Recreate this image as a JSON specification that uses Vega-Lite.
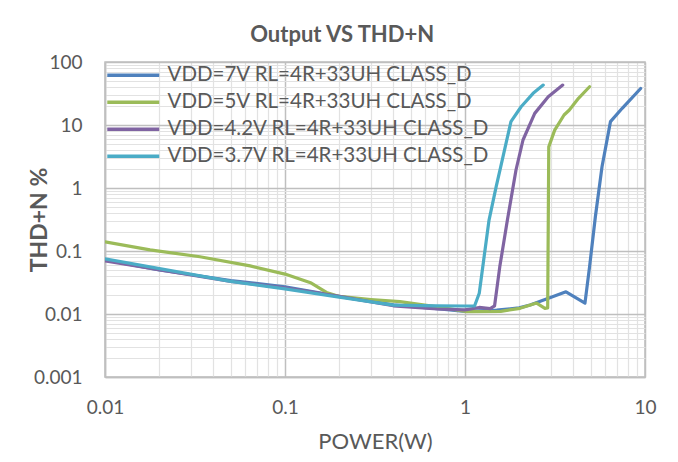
{
  "$schema": "https://vega.github.io/schema/vega-lite/v6.json",
  "autosize": {"type": "none"},
  "width": 540,
  "height": 315,
  "padding": {"left": 105, "top": 62, "right": 33, "bottom": 85},
  "background": "white",
  "title": {
    "text": "Output VS THD+N",
    "font": "Lato",
    "fontSize": 22,
    "fontWeight": "bold",
    "color": "#595959",
    "anchor": "middle",
    "frame": "bounds",
    "offset": 6
  },
  "config": {
    "view": {"stroke": "#bfbfbf", "strokeWidth": 1.5},
    "font": "Lato"
  },
  "data": {
    "values": [
      {"series": "VDD=7V RL=4R+33UH CLASS_D", "x": 0.01, "y": 0.072},
      {"series": "VDD=7V RL=4R+33UH CLASS_D", "x": 0.02, "y": 0.05},
      {"series": "VDD=7V RL=4R+33UH CLASS_D", "x": 0.05, "y": 0.034},
      {"series": "VDD=7V RL=4R+33UH CLASS_D", "x": 0.1, "y": 0.027},
      {"series": "VDD=7V RL=4R+33UH CLASS_D", "x": 0.2, "y": 0.019},
      {"series": "VDD=7V RL=4R+33UH CLASS_D", "x": 0.4, "y": 0.014},
      {"series": "VDD=7V RL=4R+33UH CLASS_D", "x": 0.7, "y": 0.0122},
      {"series": "VDD=7V RL=4R+33UH CLASS_D", "x": 1.0, "y": 0.011},
      {"series": "VDD=7V RL=4R+33UH CLASS_D", "x": 1.5, "y": 0.0115},
      {"series": "VDD=7V RL=4R+33UH CLASS_D", "x": 2.0, "y": 0.0125},
      {"series": "VDD=7V RL=4R+33UH CLASS_D", "x": 2.3, "y": 0.0139},
      {"series": "VDD=7V RL=4R+33UH CLASS_D", "x": 3.09, "y": 0.0189},
      {"series": "VDD=7V RL=4R+33UH CLASS_D", "x": 3.64, "y": 0.0225},
      {"series": "VDD=7V RL=4R+33UH CLASS_D", "x": 4.64, "y": 0.0149},
      {"series": "VDD=7V RL=4R+33UH CLASS_D", "x": 4.92, "y": 0.056},
      {"series": "VDD=7V RL=4R+33UH CLASS_D", "x": 5.3, "y": 0.35},
      {"series": "VDD=7V RL=4R+33UH CLASS_D", "x": 5.77, "y": 2.18},
      {"series": "VDD=7V RL=4R+33UH CLASS_D", "x": 6.43, "y": 11.3},
      {"series": "VDD=7V RL=4R+33UH CLASS_D", "x": 7.47, "y": 18.4},
      {"series": "VDD=7V RL=4R+33UH CLASS_D", "x": 9.46, "y": 38},

      {"series": "VDD=5V RL=4R+33UH CLASS_D", "x": 0.01, "y": 0.14},
      {"series": "VDD=5V RL=4R+33UH CLASS_D", "x": 0.0178, "y": 0.104},
      {"series": "VDD=5V RL=4R+33UH CLASS_D", "x": 0.0337, "y": 0.081},
      {"series": "VDD=5V RL=4R+33UH CLASS_D", "x": 0.064, "y": 0.058},
      {"series": "VDD=5V RL=4R+33UH CLASS_D", "x": 0.1, "y": 0.043},
      {"series": "VDD=5V RL=4R+33UH CLASS_D", "x": 0.14, "y": 0.031},
      {"series": "VDD=5V RL=4R+33UH CLASS_D", "x": 0.17, "y": 0.022},
      {"series": "VDD=5V RL=4R+33UH CLASS_D", "x": 0.2, "y": 0.019},
      {"series": "VDD=5V RL=4R+33UH CLASS_D", "x": 0.3, "y": 0.017},
      {"series": "VDD=5V RL=4R+33UH CLASS_D", "x": 0.435, "y": 0.0157},
      {"series": "VDD=5V RL=4R+33UH CLASS_D", "x": 0.7, "y": 0.013},
      {"series": "VDD=5V RL=4R+33UH CLASS_D", "x": 1.03, "y": 0.0109},
      {"series": "VDD=5V RL=4R+33UH CLASS_D", "x": 1.58, "y": 0.011},
      {"series": "VDD=5V RL=4R+33UH CLASS_D", "x": 2.02, "y": 0.0123},
      {"series": "VDD=5V RL=4R+33UH CLASS_D", "x": 2.5, "y": 0.0149},
      {"series": "VDD=5V RL=4R+33UH CLASS_D", "x": 2.78, "y": 0.0123},
      {"series": "VDD=5V RL=4R+33UH CLASS_D", "x": 2.88, "y": 0.0125},
      {"series": "VDD=5V RL=4R+33UH CLASS_D", "x": 2.92, "y": 4.5},
      {"series": "VDD=5V RL=4R+33UH CLASS_D", "x": 3.15, "y": 8.3},
      {"series": "VDD=5V RL=4R+33UH CLASS_D", "x": 3.55, "y": 14.4},
      {"series": "VDD=5V RL=4R+33UH CLASS_D", "x": 3.8, "y": 17.3},
      {"series": "VDD=5V RL=4R+33UH CLASS_D", "x": 4.27, "y": 26.5},
      {"series": "VDD=5V RL=4R+33UH CLASS_D", "x": 4.92, "y": 40.5},

      {"series": "VDD=4.2V RL=4R+33UH CLASS_D", "x": 0.01, "y": 0.07},
      {"series": "VDD=4.2V RL=4R+33UH CLASS_D", "x": 0.05, "y": 0.033},
      {"series": "VDD=4.2V RL=4R+33UH CLASS_D", "x": 0.1, "y": 0.026},
      {"series": "VDD=4.2V RL=4R+33UH CLASS_D", "x": 0.2, "y": 0.019},
      {"series": "VDD=4.2V RL=4R+33UH CLASS_D", "x": 0.4, "y": 0.0135},
      {"series": "VDD=4.2V RL=4R+33UH CLASS_D", "x": 0.7, "y": 0.012},
      {"series": "VDD=4.2V RL=4R+33UH CLASS_D", "x": 1.0, "y": 0.0116},
      {"series": "VDD=4.2V RL=4R+33UH CLASS_D", "x": 1.2, "y": 0.0127},
      {"series": "VDD=4.2V RL=4R+33UH CLASS_D", "x": 1.38, "y": 0.0122},
      {"series": "VDD=4.2V RL=4R+33UH CLASS_D", "x": 1.46, "y": 0.0135},
      {"series": "VDD=4.2V RL=4R+33UH CLASS_D", "x": 1.56, "y": 0.056},
      {"series": "VDD=4.2V RL=4R+33UH CLASS_D", "x": 1.72, "y": 0.31},
      {"series": "VDD=4.2V RL=4R+33UH CLASS_D", "x": 1.92, "y": 1.93},
      {"series": "VDD=4.2V RL=4R+33UH CLASS_D", "x": 2.1, "y": 5.78},
      {"series": "VDD=4.2V RL=4R+33UH CLASS_D", "x": 2.44, "y": 15.3},
      {"series": "VDD=4.2V RL=4R+33UH CLASS_D", "x": 2.9, "y": 28},
      {"series": "VDD=4.2V RL=4R+33UH CLASS_D", "x": 3.49, "y": 43},

      {"series": "VDD=3.7V RL=4R+33UH CLASS_D", "x": 0.01, "y": 0.075},
      {"series": "VDD=3.7V RL=4R+33UH CLASS_D", "x": 0.05, "y": 0.033},
      {"series": "VDD=3.7V RL=4R+33UH CLASS_D", "x": 0.1, "y": 0.025},
      {"series": "VDD=3.7V RL=4R+33UH CLASS_D", "x": 0.2, "y": 0.0185},
      {"series": "VDD=3.7V RL=4R+33UH CLASS_D", "x": 0.4, "y": 0.0138},
      {"series": "VDD=3.7V RL=4R+33UH CLASS_D", "x": 0.7, "y": 0.0135},
      {"series": "VDD=3.7V RL=4R+33UH CLASS_D", "x": 1.0, "y": 0.0134},
      {"series": "VDD=3.7V RL=4R+33UH CLASS_D", "x": 1.13, "y": 0.0134},
      {"series": "VDD=3.7V RL=4R+33UH CLASS_D", "x": 1.2, "y": 0.0213},
      {"series": "VDD=3.7V RL=4R+33UH CLASS_D", "x": 1.27, "y": 0.072},
      {"series": "VDD=3.7V RL=4R+33UH CLASS_D", "x": 1.36, "y": 0.31},
      {"series": "VDD=3.7V RL=4R+33UH CLASS_D", "x": 1.49, "y": 1.05},
      {"series": "VDD=3.7V RL=4R+33UH CLASS_D", "x": 1.58, "y": 2.18},
      {"series": "VDD=3.7V RL=4R+33UH CLASS_D", "x": 1.8, "y": 11.3},
      {"series": "VDD=3.7V RL=4R+33UH CLASS_D", "x": 2.05, "y": 19.5},
      {"series": "VDD=3.7V RL=4R+33UH CLASS_D", "x": 2.39, "y": 31.8},
      {"series": "VDD=3.7V RL=4R+33UH CLASS_D", "x": 2.72, "y": 43}
    ]
  },
  "mark": {"type": "line", "strokeWidth": 3.2, "strokeCap": "round", "strokeJoin": "round", "clip": true},
  "encoding": {
    "x": {
      "field": "x",
      "type": "quantitative",
      "scale": {"type": "log", "domain": [0.01, 10], "nice": false},
      "axis": {
        "title": "POWER(W)",
        "titleFont": "Lato",
        "titleFontSize": 22,
        "titleFontWeight": "normal",
        "titleColor": "#595959",
        "titlePadding": 14,
        "values": [0.01,0.02,0.03,0.04,0.05,0.06,0.07,0.08,0.09,0.1,0.2,0.3,0.4,0.5,0.6,0.7,0.8,0.9,1,2,3,4,5,6,7,8,9,10],
        "labelExpr": "indexof([0.01,0.1,1,10], datum.value) >= 0 ? format(datum.value, '~g') : ''",
        "labelFont": "Lato",
        "labelFontSize": 19,
        "labelColor": "#595959",
        "labelPadding": 21,
        "labelOverlap": false,
        "labelFlush": false,
        "ticks": false,
        "domainColor": "#bfbfbf",
        "domainWidth": 1.5,
        "grid": true,
        "gridColor": {"condition": {"test": "indexof([0.01,0.1,1,10], datum.value) >= 0", "value": "#bfbfbf"}, "value": "#e2e2e2"},
        "gridWidth": {"condition": {"test": "indexof([0.01,0.1,1,10], datum.value) >= 0", "value": 1.5}, "value": 1.2}
      }
    },
    "y": {
      "field": "y",
      "type": "quantitative",
      "scale": {"type": "log", "domain": [0.001, 100], "nice": false},
      "axis": {
        "title": "THD+N %",
        "titleFont": "Lato",
        "titleFontSize": 23,
        "titleFontWeight": "bold",
        "titleColor": "#595959",
        "titlePadding": -18,
        "values": [0.001,0.002,0.003,0.004,0.005,0.006,0.007,0.008,0.009,0.01,0.02,0.03,0.04,0.05,0.06,0.07,0.08,0.09,0.1,0.2,0.3,0.4,0.5,0.6,0.7,0.8,0.9,1,2,3,4,5,6,7,8,9,10,20,30,40,50,60,70,80,90,100],
        "labelExpr": "indexof([0.001,0.01,0.1,1,10,100], datum.value) >= 0 ? format(datum.value, '~g') : ''",
        "labelFont": "Lato",
        "labelFontSize": 19,
        "labelColor": "#595959",
        "labelPadding": 23,
        "labelOverlap": false,
        "labelFlush": false,
        "ticks": false,
        "domainColor": "#bfbfbf",
        "domainWidth": 1.5,
        "grid": true,
        "gridColor": {"condition": {"test": "indexof([0.001,0.01,0.1,1,10,100], datum.value) >= 0", "value": "#bfbfbf"}, "value": "#e2e2e2"},
        "gridWidth": {"condition": {"test": "indexof([0.001,0.01,0.1,1,10,100], datum.value) >= 0", "value": 1.5}, "value": 1.2}
      }
    },
    "color": {
      "field": "series",
      "type": "nominal",
      "scale": {
        "domain": ["VDD=7V RL=4R+33UH CLASS_D", "VDD=5V RL=4R+33UH CLASS_D", "VDD=4.2V RL=4R+33UH CLASS_D", "VDD=3.7V RL=4R+33UH CLASS_D"],
        "range": ["#4F81BD", "#9BBB59", "#8064A2", "#4BACC6"]
      },
      "legend": {
        "title": null,
        "orient": "none",
        "legendX": 18,
        "legendY": 3,
        "padding": 0,
        "symbolType": "M-5,0H5",
        "symbolSize": 108,
        "symbolStrokeWidth": 3.5,
        "labelFont": "Lato",
        "labelFontSize": 20.5,
        "labelColor": "#595959",
        "labelOffset": 24,
        "rowPadding": 6,
        "labelLimit": 500
      }
    }
  }
}
